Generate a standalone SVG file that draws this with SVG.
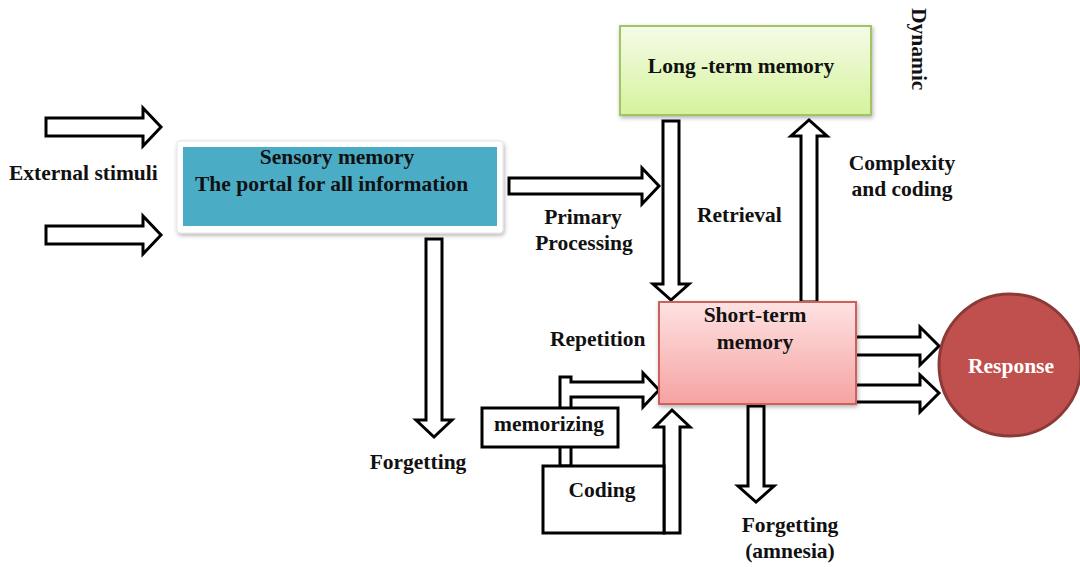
<svg xmlns="http://www.w3.org/2000/svg" width="1080" height="567" viewBox="0 0 1080 567">
  <defs>
    <linearGradient id="gradLong" x1="0" y1="0" x2="0" y2="1">
      <stop offset="0" stop-color="#f5fbe8"/>
      <stop offset="1" stop-color="#d5f39c"/>
    </linearGradient>
    <linearGradient id="gradShort" x1="0" y1="0" x2="0" y2="1">
      <stop offset="0" stop-color="#fee2e2"/>
      <stop offset="1" stop-color="#f6a2a2"/>
    </linearGradient>
    <filter id="shadow" x="-10%" y="-10%" width="120%" height="130%">
      <feDropShadow dx="1" dy="2" stdDeviation="2" flood-color="#000" flood-opacity="0.3"/>
    </filter>
  </defs>
  <style>
    text { font-family: "Liberation Serif", "Times New Roman", serif; font-weight: bold; font-size: 21.5px; fill: #111; }
    .mid { text-anchor: middle; }
    .arrow { fill: #fff; stroke: #000; stroke-width: 3; stroke-linejoin: miter; }
    .plain { fill: #fff; stroke: #000; stroke-width: 3; }
  </style>

  <rect width="1080" height="567" fill="#fff"/>

  <!-- connectors: block arrows -->
  <g id="connectors">
    <!-- external stimuli inputs -->
    <polygon class="arrow" points="46,118 143,118 143,108 161,127 143,146 143,136 46,136"/>
    <polygon class="arrow" points="46,226 143,226 143,216 161,235 143,254 143,244 46,244"/>
    <!-- primary processing -->
    <polygon class="arrow" points="509,178 642,178 642,168 659,186 642,204 642,194 509,194"/>
    <!-- retrieval: long-term down to short-term -->
    <polygon class="arrow" points="663,121 679,121 679,284 689,284 671,300 653,284 663,284"/>
    <!-- complexity and coding: short-term up to long-term -->
    <polygon class="arrow" points="801,302 817,302 817,136 827,136 809,120 791,136 801,136"/>
    <!-- sensory forgetting -->
    <polygon class="arrow" points="426,239 442,239 442,420 452,420 434,437 416,420 426,420"/>
    <!-- short-term forgetting -->
    <polygon class="arrow" points="748,406 764,406 764,486 774,486 756,502 738,486 748,486"/>
    <!-- response outputs -->
    <polygon class="arrow" points="855,337 920,337 920,327 939,346 920,365 920,355 855,355"/>
    <polygon class="arrow" points="855,385 920,385 920,375 939,393 920,412 920,402 855,402"/>
    <!-- repetition loop -->
    <polygon class="arrow" points="560,466 560,377 571,377 571,382 643,382 643,373 659,390 643,407 643,397 571,397 571,466"/>
    <!-- coding up to short-term -->
    <polygon class="arrow" points="664,533 664,427 655,427 672,410 690,427 680,427 680,533"/>
  </g>

  <!-- sensory memory -->
  <g id="sensory">
    <rect x="177" y="141" width="326" height="92" rx="3" fill="#fff" stroke="#e4e4e4" stroke-width="1" filter="url(#shadow)"/>
    <rect x="183" y="147" width="314" height="79" fill="#4bacc6"/>
    <text class="mid" x="337" y="164">Sensory memory</text>
    <text x="195" y="191">The portal for all information</text>
  </g>

  <!-- long-term memory -->
  <g id="longterm">
    <rect x="620" y="26" width="251" height="89" fill="url(#gradLong)" stroke="#a3c466" stroke-width="2" filter="url(#shadow)"/>
    <text class="mid" x="741" y="73">Long -term memory</text>
  </g>

  <!-- short-term memory -->
  <g id="shortterm">
    <rect x="659" y="302" width="197" height="102" fill="url(#gradShort)" stroke="#cf5f5c" stroke-width="2" filter="url(#shadow)"/>
    <text class="mid" x="755" y="322">Short-term</text>
    <text class="mid" x="755" y="349">memory</text>
  </g>

  <!-- response -->
  <g id="response">
    <circle cx="1010" cy="365" r="71" fill="#c0504d" stroke="#8c3a37" stroke-width="3"/>
    <text class="mid" x="1011" y="373" style="fill:#fff">Response</text>
  </g>

  <!-- memorizing -->
  <g id="memorizing">
    <rect class="plain" x="482" y="408" width="136" height="39"/>
    <text class="mid" x="549" y="431">memorizing</text>
  </g>

  <!-- coding -->
  <g id="coding">
    <rect class="plain" x="543" y="466" width="121" height="67"/>
    <text class="mid" x="602" y="497">Coding</text>
  </g>

  <!-- labels -->
  <g id="labels">
    <text x="9" y="180">External stimuli</text>
    <text class="mid" x="583" y="224">Primary</text>
    <text class="mid" x="584" y="250">Processing</text>
    <text x="697" y="222">Retrieval</text>
    <text class="mid" x="902" y="170">Complexity</text>
    <text class="mid" x="902" y="196">and coding</text>
    <text x="912" y="8" transform="rotate(90 912 8)">Dynamic</text>
    <text x="550" y="346">Repetition</text>
    <text class="mid" x="418" y="469">Forgetting</text>
    <text class="mid" x="790" y="532">Forgetting</text>
    <text class="mid" x="790" y="558">(amnesia)</text>
  </g>
</svg>
